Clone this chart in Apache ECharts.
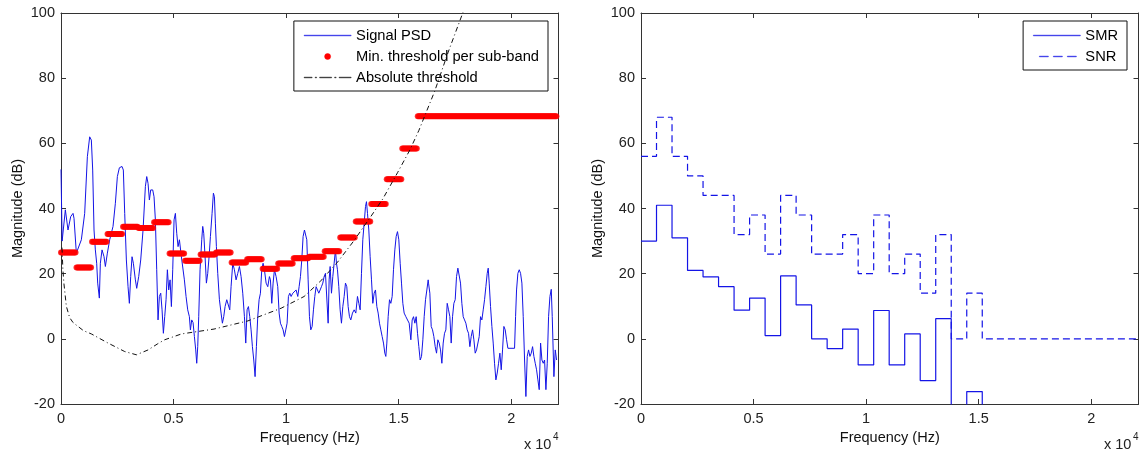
<!DOCTYPE html>
<html><head><meta charset="utf-8">
<script src="https://cdn.jsdelivr.net/npm/echarts@6/dist/echarts.min.js"></script>
<style>html,body{margin:0;padding:0;background:#fff}#c{width:1146px;height:452px}</style>
</head><body><div id="c"></div>
<script>
// ---- data (frequency in kHz, magnitude in dB) ----
const psdPoints = [
[0,52],[0.05,30],[0.193,39.6],[0.311,33.4],[0.43,37.5],[0.534,38.5],[0.578,37],[0.682,26.3],[0.756,26],[0.904,30.4],
[1.052,38.5],[1.171,55.9],[1.274,62],[1.348,61],[1.408,51.8],[1.467,33.4],[1.526,27.3],[1.585,23.2],[1.63,17.1],[1.704,12.5],
[1.748,23.2],[1.823,27.3],[1.911,25.2],[1.971,22.2],[2.06,26.3],[2.163,30.4],[2.311,34.5],[2.415,41.6],[2.504,49.8],[2.593,52.5],
[2.711,52.9],[2.77,51.8],[2.83,38.5],[2.904,24.2],[2.978,16],[3.037,10.9],[3.096,19.1],[3.156,25.2],[3.215,23.2],[3.304,18.1],
[3.363,15.5],[3.452,19.1],[3.541,24.2],[3.645,33.4],[3.748,46.7],[3.808,49.8],[3.867,47.7],[3.926,42.6],[3.985,45.7],[4.074,45.7],
[4.133,43.6],[4.193,36.5],[4.252,21.2],[4.311,5.8],[4.37,13],[4.43,14],[4.489,8.9],[4.548,1.7],[4.607,6.8],[4.667,12],
[4.726,21.2],[4.785,15],[4.845,18.1],[4.904,9.9],[4.963,21.2],[5.022,36.5],[5.082,38.5],[5.141,32.4],[5.2,28.3],[5.26,30.4],[5.348,25.2],
[5.407,25.2],[5.481,18.1],[5.555,13],[5.629,8.9],[5.703,6.8],[5.748,2.75],[5.807,5.8],[5.866,5],[5.926,0.7],[5.985,-3.4],
[6.029,-7.5],[6.074,-2.4],[6.118,6.8],[6.177,21.2],[6.252,30.4],[6.296,34.5],[6.34,32.4],[6.4,25.2],[6.459,17.1],[6.518,20.1],
[6.578,25.2],[6.637,31.4],[6.711,38.5],[6.77,44.7],[6.815,43.6],[6.859,35.5],[6.903,28.3],[6.963,20.1],[7.037,12],[7.111,7.9],
[7.17,4.8],[7.229,6.8],[7.289,9.9],[7.363,12],[7.437,12],[7.496,8.9],[7.555,16],[7.629,23.2],[7.703,21.2],[7.777,18.1],
[7.852,20.1],[7.926,22.2],[8.0,19.1],[8.074,14],[8.148,6.8],[8.207,-1.3],[8.266,8.9],[8.326,9.9],[8.385,6.8],[8.444,2.75],
[8.503,-2.4],[8.563,-6.5],[8.622,-11.6],[8.681,-2.4],[8.74,6.8],[8.8,12],[8.859,14],[8.918,21.2],[8.977,23.2],[9.037,21.2],
[9.111,17.1],[9.185,16],[9.259,19.1],[9.303,18.1],[9.363,10.9],[9.422,17.1],[9.481,21.2],[9.555,19.1],[9.629,16],[9.689,7.9],
[9.748,4.8],[9.807,3.8],[9.866,2.75],[9.926,0.7],[9.985,2.75],[10.044,4.8],[10.103,13],[10.163,14],[10.222,13],[10.296,14],
[10.37,13.5],[10.444,15],[10.518,13],[10.578,16],[10.637,19.1],[10.696,24.2],[10.755,31.4],[10.815,33.4],
[10.859,32.9],[10.919,30.4],[10.978,18.1],[11.037,6.8],[11.096,2.75],[11.156,3.8],[11.215,8.9],[11.274,13],[11.333,16],[11.393,15],
[11.452,14],[11.511,15],[11.57,16],[11.63,17.1],[11.689,19.1],[11.748,20.1],[11.807,20.6],[11.867,4.8],[11.911,18.1],[11.956,22.2],
[12.015,14],[12.074,19.1],[12.133,23.2],[12.193,27.3],[12.237,23.2],[12.281,21.2],[12.341,16],[12.4,8.9],[12.459,4.8],[12.519,9.9],
[12.578,13],[12.637,17.1],[12.696,16],[12.756,9.9],[12.815,6.8],[12.874,5.8],[12.948,7.9],[13.022,8.9],[13.096,7.9],[13.17,13],
[13.23,10.9],[13.289,8.9],[13.348,20.1],[13.407,30.4],[13.467,35.5],[13.526,40.6],[13.57,42.1],[13.615,38.5],[13.674,33.4],[13.733,25.2],
[13.793,18.1],[13.852,10.9],[13.911,14],[13.97,15],[14.03,9.9],[14.089,7.9],[14.148,4.8],[14.207,2.75],[14.267,0.7],[14.326,-1.3],
[14.385,-4.4],[14.43,-5.4],[14.474,-1.3],[14.533,6.8],[14.593,12],[14.652,10.9],[14.711,13],[14.77,21.2],[14.83,27.3],[14.889,31.4],
[14.948,32.9],[15.007,30.4],[15.067,23.2],[15.126,17.1],[15.185,10.9],[15.244,7.9],[15.319,6.8],[15.393,6.8],[15.467,4.8],[15.541,-0.3],
[15.6,5.8],[15.659,6.8],[15.719,4.8],[15.778,6.8],[15.837,1.7],[15.896,-2.4],[15.956,-6.5],[16.015,-5.4],[16.074,-0.3],[16.133,6.8],
[16.193,12],[16.252,15],[16.311,18.1],
[16.326,17.1],[16.385,14],[16.445,3.8],[16.504,2.75],[16.563,0.7],[16.623,-2.4],[16.682,-4.4],[16.741,-0.3],[16.8,-1.3],[16.859,-3.4],
[16.919,-7.5],[16.978,-1.3],[17.037,1.7],[17.096,2.75],[17.156,10.9],[17.215,8.9],[17.274,6.8],[17.333,-1.3],[17.393,6.8],[17.452,10.9],
[17.511,12],[17.57,19.1],[17.63,21.7],[17.689,22.2],[17.748,17.1],[17.807,10.9],[17.867,6.8],[17.926,5.8],[17.985,4.8],[18.044,2.75],
[18.104,1.7],[18.163,-2.4],[18.222,0.7],[18.282,2.75],[18.341,-0.3],[18.4,-4.4],[18.459,-3.4],[18.519,-3.4],[18.578,0.7],[18.637,6.8],
[18.696,5.8],[18.756,8.9],[18.815,12],[18.874,16],[18.933,20.1],[18.978,21.7],[19.022,17.1],[19.081,9.9],[19.141,3.8],[19.2,-1.3],
[19.259,-7.5],[19.319,-12.6],[19.378,-10.5],[19.437,-7.5],[19.496,-4.4],[19.556,-9.5],[19.615,-3.4],[19.674,3.8],[19.733,2.75],[19.793,-0.3],
[19.852,-2.9],[20.148,-2.9],[20.193,6.8],[20.237,15],[20.296,20.1],[20.356,21.2],[20.415,20.1],[20.474,17.1],[20.533,6.8],[20.593,-6.5],
[20.652,-17.7],[20.711,-5.4],[20.77,-3.4],[20.83,-5.4],[20.889,-4.4],[20.948,-2.4],[21.007,-5.4],[21.067,-7.5],[21.126,-9.5],[21.185,-12.6],
[21.244,-15.6],[21.304,-1.3],[21.363,-6.5],[21.422,-7.5],[21.481,-6.5],[21.541,-15.6],[21.6,-7.5],[21.659,6.8],[21.719,13],[21.778,15.2],
[21.822,6.8],[21.896,-11.6],[21.956,-3.4],[22.015,-6.5]
];
// minimum masking threshold per sub-band (32 sub-bands)
const thrPerBand = [26.5,21.9,29.8,32.2,34.4,34.0,35.8,26.2,24.0,25.9,26.5,23.4,24.4,21.5,23.1,24.7,
                    25.2,26.9,31.1,36.0,41.4,49.0,58.4,68.3,68.3,68.3,68.3,68.3,68.3,68.3,68.3,68.3];
// absolute threshold of hearing
const athKHz = [0.043,0.086,0.13,0.237,0.385,0.534,1.0,1.35,2.09,2.83,3.35,3.87,4.3,4.6,5.35,6.8,8.3,9.78,10.8,11.5,12.28,13.0,13.76,14.3,14.95,15.5,15.9,16.6,17.2,17.9];
const athDb  = [28,21,17,10,6.5,5,2.5,1.5,-1.3,-3.9,-4.9,-3.4,-1.5,-0.3,1.5,3.0,5.5,9.4,13,17.5,23.5,30,37.5,43,51,58,64,76,88,101];
// per sub-band SMR and SNR
const smrDb = [30,41,31,21,19,16,8.8,12.5,1,19.3,10.4,0,-3,3,-8,8.7,-8,1.5,-12.8,6.2,-40,-16.2,-40,-40,-40,-40,-40,-40,-40,-40,-40,-40];
const snrDb = [56,68,56,50,44,44,32,38,26,44,38,26,26,32,20,38,20,26,14,32,0,14,0,0,0,0,0,0,0,0,0,0];
// axis ticks
const xTickLabels = {0:'0',5000:'0.5',10000:'1',15000:'1.5',20000:'2'};
const yMin = -20, yMax = 100, yStep = 20;

// ---- build ----
const FS2 = 22050, bandHz = FS2/32, binHz = FS2/512;
const psdData = psdPoints.map(p => [p[0]*1000, p[1]]);
const thrData = [];
thrPerBand.forEach((v,b) => { for (let j=0;j<16;j++) thrData.push([(b*16+j)*binHz, v]); });
const athData = athKHz.map((f,i) => [f*1000, athDb[i]]);
const stairs = arr => arr.map((v,b) => [b*bandHz, v]).concat([[FS2, arr[arr.length-1]]]);

const FONT = "'Liberation Sans', Arial, Helvetica, sans-serif";
const FS = 14.5;
const AX = '#333';
const XMAX = 22100;
function xAx(grid, top) {
  return {
    type:'value', gridIndex:grid, position: top?'top':'bottom', min:0, max:XMAX, interval:5000,
    axisLine:{show:true, onZero:false, lineStyle:{color:AX, width:1}},
    axisTick:{show:true, inside:true, length:5, lineStyle:{color:AX}},
    splitLine:{show:false},
    axisLabel:{show:!top, color:'#222', fontSize:FS, fontFamily:FONT, margin:7, showMaxLabel:false,
      formatter: v => (v in xTickLabels) ? xTickLabels[v] : ''},
    name: top ? '' : 'Frequency (Hz)', nameLocation:'middle', nameGap:25,
    nameTextStyle:{color:'#111', fontSize:FS, fontFamily:FONT}
  };
}
function yAx(grid, right) {
  return {
    type:'value', gridIndex:grid, position: right?'right':'left', min:yMin, max:yMax, interval:yStep,
    axisLine:{show:true, onZero:false, lineStyle:{color:AX, width:1}},
    axisTick:{show:true, inside:true, length:5, lineStyle:{color:AX}},
    splitLine:{show:false},
    axisLabel:{show:!right, color:'#222', fontSize:FS, fontFamily:FONT, margin:6},
    name: right ? '' : 'Magnitude (dB)', nameLocation:'middle', nameGap:36,
    nameTextStyle:{color:'#111', fontSize:FS, fontFamily:FONT}
  };
}
const BLUE = '#1414e6';
const RED = '#ff0000';
const BLACK = '#111';
// legend icons (47x14 box)
const BOX = 'path://M0,0M47,14';
const ICON_SOLID = BOX + 'M0,6.7h47v0.6h-47Z';
const ICON_DASH  = BOX + 'M6,6.7h9v0.6h-9ZM20,6.7h9v0.6h-9ZM34,6.7h9v0.6h-9Z';
const ICON_DASHDOT = BOX + 'M0,6.7h8v0.6h-8ZM11,6.7h1.5v0.6h-1.5ZM15.5,6.7h12v0.6h-12ZM30.5,6.7h1.5v0.6h-1.5ZM35,6.7h12v0.6h-12Z';
const ICON_DOT = BOX + 'M20.5,7a3,3 0 1,0 6,0a3,3 0 1,0 -6,0Z';
const li = (name, icon, color) => ({name, icon,
  itemStyle:{color:color, borderColor:color, borderWidth:0.5, opacity:1},
  lineStyle:{color:color, width:0.5}});
const legendBase = {
  orient:'vertical', top:21, itemWidth:47, itemHeight:14, itemGap:6, itemTextGap:4,
  padding:[7,9,6,10], borderColor:'#111', borderWidth:1, backgroundColor:'#fff',
  selectedMode:false, textStyle:{color:'#000', fontSize:FS+0.2, fontFamily:FONT}
};
const option = {
  animation:false,
  backgroundColor:'#fff',
  grid:[
    {left:61, top:13, width:497.5, height:391},
    {left:641, top:13, width:497.5, height:391}
  ],
  xAxis:[xAx(0,false), xAx(0,true), xAx(1,false), xAx(1,true)],
  yAxis:[yAx(0,false), yAx(0,true), yAx(1,false), yAx(1,true)],
  legend:[
    Object.assign({}, legendBase, {right:598, data:[
      li('Signal PSD', ICON_SOLID, BLUE),
      li('Min. threshold per sub-band', ICON_DOT, RED),
      li('Absolute threshold', ICON_DASHDOT, BLACK)]}),
    Object.assign({}, legendBase, {right:19, data:[
      li('SMR', ICON_SOLID, BLUE),
      li('SNR', ICON_DASH, BLUE)]})
  ],
  series:[
    {name:'Signal PSD', type:'line', xAxisIndex:0, yAxisIndex:0, data:psdData, symbol:'none',
     lineStyle:{color:BLUE, width:1}, itemStyle:{color:BLUE}, z:2},
    {name:'Min. threshold per sub-band', type:'scatter', xAxisIndex:0, yAxisIndex:0, data:thrData,
     symbol:'circle', symbolSize:6, itemStyle:{color:RED}, z:3},
    {name:'Absolute threshold', type:'line', xAxisIndex:0, yAxisIndex:0, data:athData, symbol:'none',
     lineStyle:{color:BLACK, width:1, type:[5,3,1,3]}, itemStyle:{color:BLACK}, z:4},
    {name:'SMR', type:'line', step:'end', xAxisIndex:2, yAxisIndex:2, data:stairs(smrDb), symbol:'none',
     lineStyle:{color:BLUE, width:1.2}, itemStyle:{color:BLUE}, z:2},
    {name:'SNR', type:'line', step:'end', xAxisIndex:2, yAxisIndex:2, data:stairs(snrDb), symbol:'none',
     lineStyle:{color:BLUE, width:1.2, type:[7,4]}, itemStyle:{color:BLUE}, z:2}
  ],
  graphic:[
    {type:'text', left:524, top:437, style:{text:'x 10', fill:'#222', font:FS+'px '+FONT}},
    {type:'text', left:553, top:432, style:{text:'4', fill:'#222', font:'10px '+FONT}},
    {type:'text', left:1104, top:437, style:{text:'x 10', fill:'#222', font:FS+'px '+FONT}},
    {type:'text', left:1133, top:432, style:{text:'4', fill:'#222', font:'10px '+FONT}}
  ]
};
const chart = echarts.init(document.getElementById('c'));
chart.setOption(option);
</script>
</body></html>
